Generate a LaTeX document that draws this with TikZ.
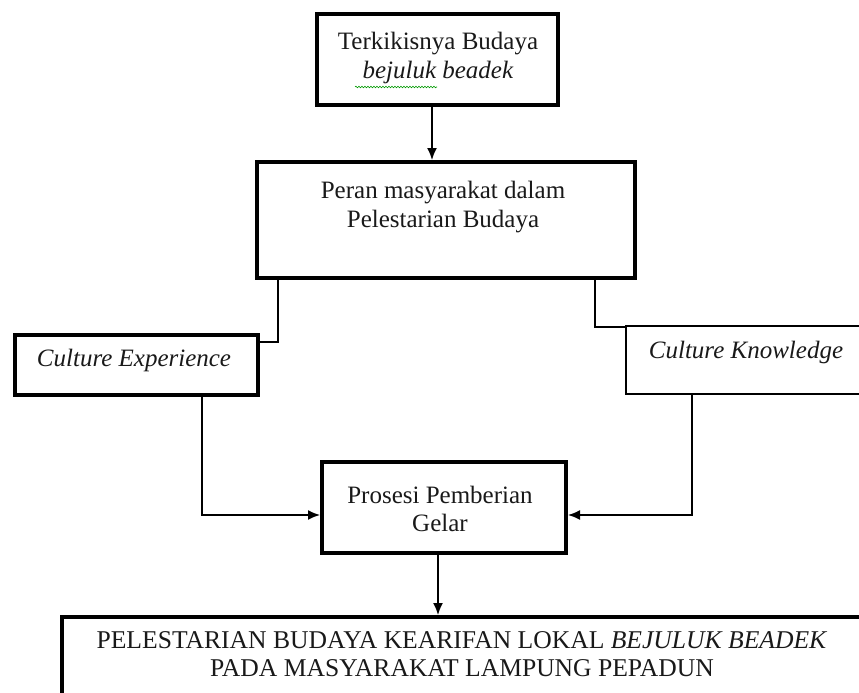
\documentclass[tikz,border=0pt]{standalone}
\usepackage{fontspec}
\setmainfont{Liberation Serif}
\usetikzlibrary{arrows.meta,decorations.pathmorphing}
\begin{document}
\begin{tikzpicture}[x=1pt,y=-1pt,
 box/.style={draw, line width=4pt, inner sep=0pt},
 thinbox/.style={draw, line width=2pt, inner sep=0pt},
 txt/.style={align=center, font=\fontsize{25}{28.5}\selectfont, inner sep=0pt, text=black!90},
 bigtxt/.style={txt, font=\fontsize{25.6}{28}\selectfont},
 conn/.style={line width=1.6pt},
 arr/.style={conn, -{Latex[length=12pt,width=10pt]}}]
\useasboundingbox (0,0) rectangle (859,693);
\clip (0,0) rectangle (859,693);
% boxes
\node[box, minimum width=241pt, minimum height=91pt] (top) at (437.5,59.5) {};
\node[box, minimum width=378pt, minimum height=116pt] (b2) at (446,220) {};
\node[box, minimum width=243pt, minimum height=60pt] (ce) at (136.5,365) {};
\node[thinbox, minimum width=274pt, minimum height=68pt] (ck) at (763,360) {};
\node[box, minimum width=244pt, minimum height=91pt] (pg) at (444,507.5) {};
\node[box, minimum width=838pt, minimum height=103pt] (bot) at (481,668.5) {};
% texts
\node[txt] (ttop) at (438,58) {Terkikisnya Budaya\\ \textit{bejuluk beadek}};
\node[txt] (tb2) at (443,207) {Peran masyarakat dalam\\ Pelestarian Budaya};
\node[txt] (tce) at (134,360) {\textit{Culture Experience}};
\node[txt] (tck) at (746,352) {\textit{Culture Knowledge}};
\node[txt] (tpg) at (440,509) {Prosesi Pemberian\\ Gelar};
\node[bigtxt] (tbot) at (462,654) {PELESTARIAN BUDAYA KEARIFAN LOKAL \textit{BEJULUK BEADEK}\\ PADA MASYARAKAT LAMPUNG PEPADUN};
% spell-check squiggle
\draw[green!60!black, line width=0.6pt, decorate, decoration={snake, amplitude=0.8pt, segment length=3pt}] (355,87) -- (437,87);
% connectors
\draw[arr] (top.south -| 432,0) -- (b2.north -| 432,0);
\draw[conn] (b2.south -| 278,0) |- (ce.east |- 0,342);
\draw[conn] (b2.south -| 595,0) |- (ck.west |- 0,327);
\draw[arr] (ce.south -| 202,0) |- (pg.west |- 0,515);
\draw[arr] (ck.south -| 692,0) |- (pg.east |- 0,515);
\draw[arr] (pg.south -| 438,0) -- (bot.north -| 438,0);
\end{tikzpicture}
\end{document}
